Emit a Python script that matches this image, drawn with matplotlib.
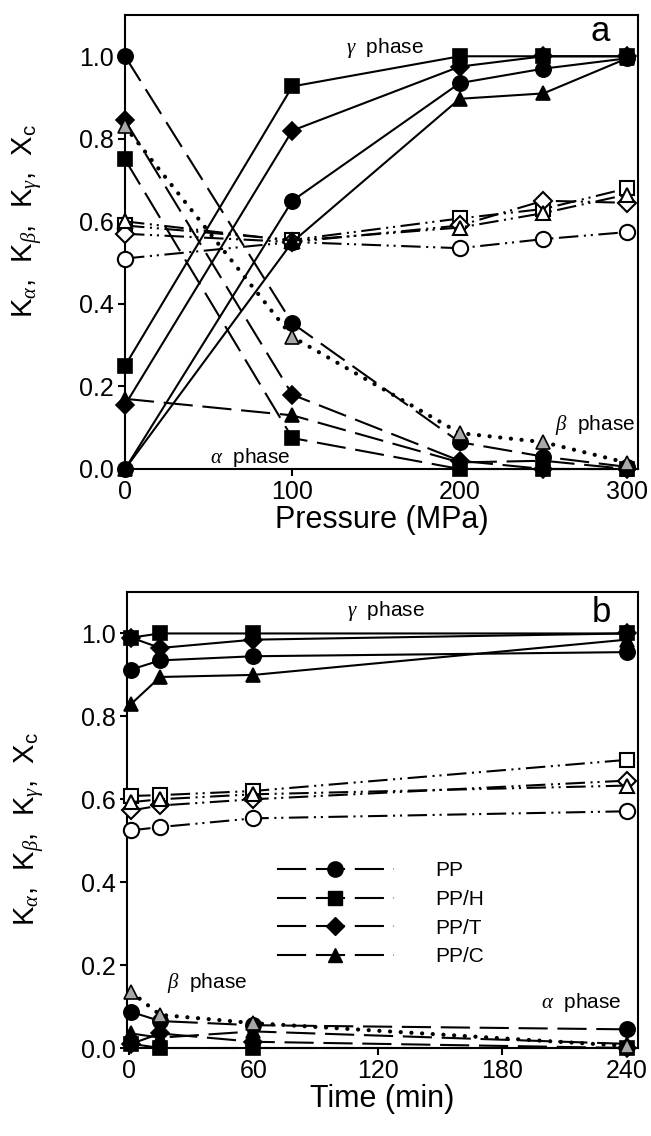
import matplotlib
matplotlib.use("Agg")
import matplotlib.pyplot as plt
from matplotlib.lines import Line2D

plt.rcParams['font.family'] = ['Liberation Sans', 'DejaVu Sans']
plt.rcParams['mathtext.fontset'] = 'custom'
plt.rcParams['mathtext.rm'] = 'Liberation Sans'
plt.rcParams['mathtext.it'] = 'Liberation Serif:italic'
plt.rcParams['mathtext.bf'] = 'Liberation Sans:bold'
plt.rcParams['lines.scale_dashes'] = False

# ---------------- data ----------------
samples = ['PP', 'PP/H', 'PP/T', 'PP/C']
markers = ['o', 's', 'D', '^']
msizes = [11, 9.5, 9, 10]

pressure = [0, 100, 200, 250, 300]
gamma_a = {
    'PP':   [0.00, 0.65, 0.935, 0.97, 0.995],
    'PP/H': [0.25, 0.927, 1.00, 1.00, 1.00],
    'PP/T': [0.155, 0.82, 0.975, 1.00, 1.00],
    'PP/C': [0.00, 0.55, 0.897, 0.91, 0.995],
}
alpha_a = {
    'PP':   [1.00, 0.353, 0.065, 0.03, 0.005],
    'PP/H': [0.75, 0.075, 0.00, 0.00, 0.00],
    'PP/T': [0.845, 0.18, 0.02, 0.00, 0.00],
    'PP/C': [0.17, 0.13, 0.016, 0.02, 0.00],
}
beta_a_ppc = [0.83, 0.32, 0.087, 0.065, 0.015]
xc_a = {
    'PP':   [0.51, 0.55, 0.535, 0.557, 0.574],
    'PP/H': [0.59, 0.555, 0.607, 0.63, 0.68],
    'PP/T': [0.57, 0.55, 0.59, 0.65, 0.645],
    'PP/C': [0.60, 0.553, 0.585, 0.62, 0.665],
}

time = [1, 15, 60, 240]
gamma_b = {
    'PP':   [0.913, 0.935, 0.945, 0.955],
    'PP/H': [0.99, 1.00, 1.00, 1.00],
    'PP/T': [0.99, 0.965, 0.985, 1.00],
    'PP/C': [0.83, 0.895, 0.90, 0.985],
}
alpha_b = {
    'PP':   [0.087, 0.065, 0.055, 0.045],
    'PP/H': [0.01, 0.00, 0.00, 0.00],
    'PP/T': [0.01, 0.035, 0.015, 0.00],
    'PP/C': [0.035, 0.025, 0.04, 0.01],
}
beta_b_ppc = [0.135, 0.08, 0.06, 0.005]
xc_b = {
    'PP':   [0.525, 0.533, 0.554, 0.571],
    'PP/H': [0.608, 0.61, 0.62, 0.695],
    'PP/T': [0.573, 0.585, 0.60, 0.645],
    'PP/C': [0.593, 0.60, 0.612, 0.633],
}

# ---------------- styles ----------------
LW = 1.5
DASH = (21, 7)
DADODO = (14, 4, 1.5, 3.5, 1.5, 4)
DOT = (0.1, 7.6)
GRAY = '#a8a8a8'

fig = plt.figure(figsize=(6.51, 11.36), dpi=100)
W, H = 651, 1136
axa = fig.add_axes([125 / W, 1 - 469 / H, (638 - 125) / W, (469 - 15) / H])
axb = fig.add_axes([127 / W, 1 - 1048 / H, (638 - 127) / W, (1048 - 592) / H])


def draw(ax, x, gamma, alpha, beta_ppc, xc):
    for s, m, ms in zip(samples, markers, msizes):
        ax.plot(x, xc[s], color='k', lw=LW, dashes=DADODO, marker=m, ms=ms,
                mfc='white', mec='k', mew=1.5, clip_on=False, zorder=3)
    for s, m, ms in zip(samples, markers, msizes):
        ax.plot(x, alpha[s], color='k', lw=LW, dashes=DASH, marker=m, ms=ms,
                mfc='k', mec='k', mew=1.2, clip_on=False, zorder=4)
    ax.plot(x, beta_ppc, color='k', lw=3.0, dashes=DOT, dash_capstyle='round',
            marker='^', ms=10, mfc=GRAY, mec='k', mew=1.2, clip_on=False, zorder=5)
    for s, m, ms in zip(samples, markers, msizes):
        ax.plot(x, gamma[s], color='k', lw=LW, ls='-', marker=m, ms=ms,
                mfc='k', mec='k', mew=1.2, clip_on=False, zorder=4)


draw(axa, pressure, gamma_a, alpha_a, beta_a_ppc, xc_a)
draw(axb, time, gamma_b, alpha_b, beta_b_ppc, xc_b)

ylab = r'K$_\alpha$,  K$_\beta$,  K$_\gamma$,  X$_\mathrm{c}$'
for ax in (axa, axb):
    ax.set_ylim(0, 1.1)
    ax.set_yticks([0, 0.2, 0.4, 0.6, 0.8, 1.0])
    ax.set_yticklabels(['0.0', '0.2', '0.4', '0.6', '0.8', '1.0'])
    ax.tick_params(direction='out', length=5, width=1.5, labelsize=18, pad=3,
                   top=False, right=False)
    for sp in ax.spines.values():
        sp.set_linewidth(1.5)
    ax.set_ylabel(ylab, fontsize=21)

axa.yaxis.set_label_coords(-0.158, 0.546)
axb.yaxis.set_label_coords(-0.158, 0.48)

axa.set_xlim(0, 306.5)
axa.set_xticks([0, 100, 200, 300])
axa.set_xlabel('Pressure (MPa)', fontsize=22, labelpad=1)

axb.set_xlim(-1, 245.5)
axb.set_xticks([0, 60, 120, 180, 240])
axb.set_xlabel('Time (min)', fontsize=22, labelpad=1)

axa.text(155, 1.02, r'$\gamma$  phase', fontsize=15, ha='center', va='center')
axa.text(75, 0.027, r'$\alpha$  phase', fontsize=15, ha='center', va='center')
axa.text(281, 0.107, r'$\beta$  phase', fontsize=15, ha='center', va='center')
axa.text(284, 1.06, 'a', fontsize=25, ha='center', va='center')

axb.text(124, 1.055, r'$\gamma$  phase', fontsize=15, ha='center', va='center')
axb.text(37.7, 0.157, r'$\beta$  phase', fontsize=15, ha='center', va='center')
axb.text(218, 0.11, r'$\alpha$  phase', fontsize=15, ha='center', va='center')
axb.text(228, 1.05, 'b', fontsize=25, ha='center', va='center')

handles = [Line2D([], [], color='k', lw=LW, dashes=DASH, marker=m, ms=ms,
                  mfc='k', mec='k') for m, ms in zip(markers, msizes)]
leg = axb.legend(handles, samples, loc='upper left',
                 bbox_to_anchor=(277 / W, 1 - 861 / H), bbox_transform=fig.transFigure,
                 frameon=False, fontsize=15, handlelength=5.6, handletextpad=2.0,
                 labelspacing=0.47, borderaxespad=0, borderpad=0)

fig.savefig('out.png', dpi=100)
